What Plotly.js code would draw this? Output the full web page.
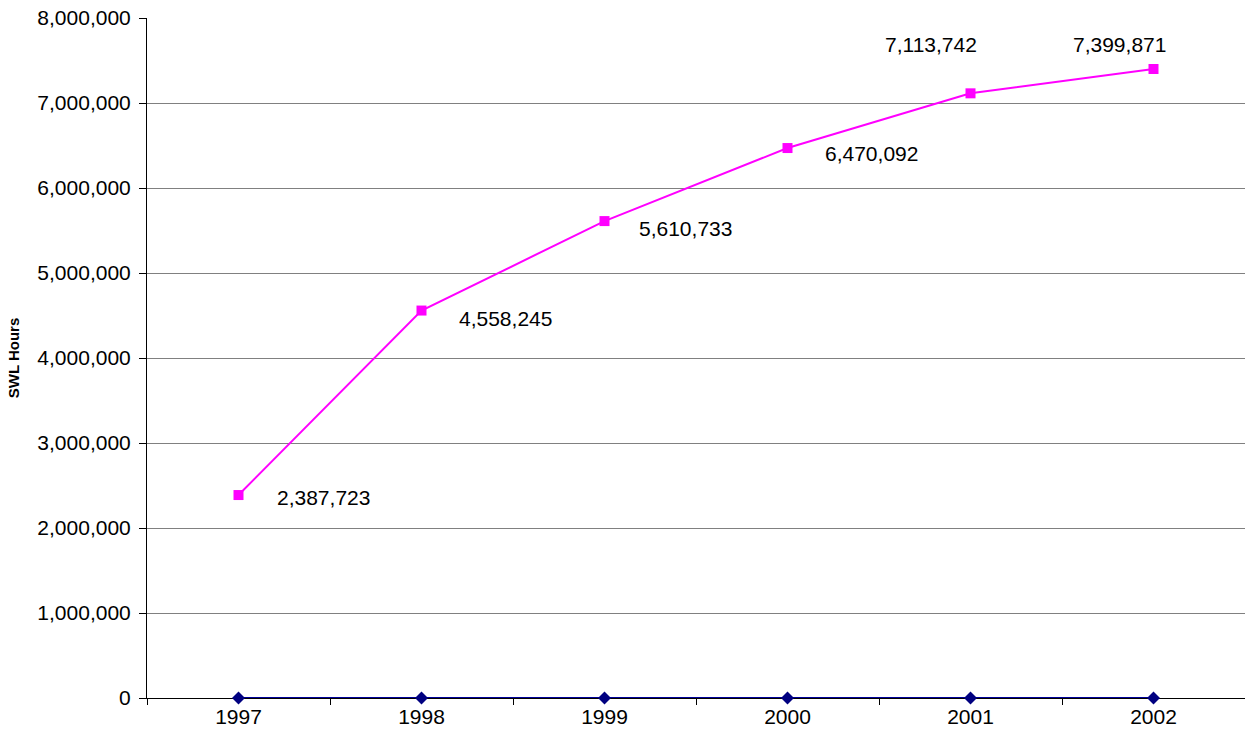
<!DOCTYPE html>
<html>
<head>
<meta charset="utf-8">
<script src="https://cdn.plot.ly/plotly-3.0.1.min.js"></script>
<style>html,body{margin:0;padding:0;background:#fff;overflow:hidden}</style>
</head>
<body>
<div id="chart" style="width:1245px;height:740px"></div>
<script>
const years = ['1997', '1998', '1999', '2000', '2001', '2002'];
const swlHours = [2387723, 4558245, 5610733, 6470092, 7113742, 7399871];
const baseline = [0, 0, 0, 0, 0, 0];
const yTickVals = [0, 1000000, 2000000, 3000000, 4000000, 5000000, 6000000, 7000000, 8000000];

const labelShift = [[85, -2], [84, -8], [81, -7], [84, -5], [-40, 49], [-34, 25]];

function fmt(n) {
  return String(Math.round(n)).replace(/\B(?=(\d{3})+(?!\d))/g, ',');
}

const annotations = swlHours.map((v, i) => ({
  x: i, y: v, xref: 'x', yref: 'y',
  text: fmt(v), showarrow: false,
  xshift: labelShift[i][0], yshift: labelShift[i][1],
  font: {family: 'Liberation Sans, Arial, sans-serif', size: 21, color: '#000'}
}));

const traces = [
  {x: years, y: baseline, type: 'scatter', mode: 'lines+markers', cliponaxis: false,
   line: {color: '#000099', width: 2}, marker: {symbol: 'diamond', size: 10, color: '#000080'},
   hoverinfo: 'skip'},
  {x: years, y: swlHours, type: 'scatter', mode: 'lines+markers', cliponaxis: false,
   line: {color: '#FF00FF', width: 2}, marker: {symbol: 'square', size: 10, color: '#FF00FF'},
   hoverinfo: 'skip'}
];

const layout = {
  width: 1245, height: 740,
  margin: {l: 147, r: 0, t: 18, b: 42},
  paper_bgcolor: '#fff', plot_bgcolor: '#fff',
  showlegend: false,
  font: {family: 'Liberation Sans, Arial, sans-serif', size: 21, color: '#000'},
  xaxis: {
    type: 'category', range: [-0.5, 5.5],
    showgrid: false, zeroline: false, layer: 'below traces',
    showline: true, linecolor: '#000', linewidth: 1,
    ticks: 'outside', tickson: 'boundaries', ticklen: 6, tickcolor: '#000', tickwidth: 1,
    tickfont: {size: 21, color: '#000'}
  },
  yaxis: {
    range: [0, 8000000], tickvals: yTickVals,
    tickformat: ',d', layer: 'below traces',
    showgrid: true, gridcolor: '#808080', gridwidth: 1,
    zeroline: false,
    showline: true, linecolor: '#000', linewidth: 1,
    ticks: 'outside', ticklen: 7, tickcolor: '#000', ticklabelstandoff: 4,
    tickfont: {size: 21, color: '#000'},
    title: {text: '<b>SWL Hours</b>', font: {size: 15, color: '#000'}, standoff: 14}
  },
  annotations: annotations
};

Plotly.newPlot('chart', traces, layout, {displayModeBar: false, staticPlot: true});
</script>
</body>
</html>
